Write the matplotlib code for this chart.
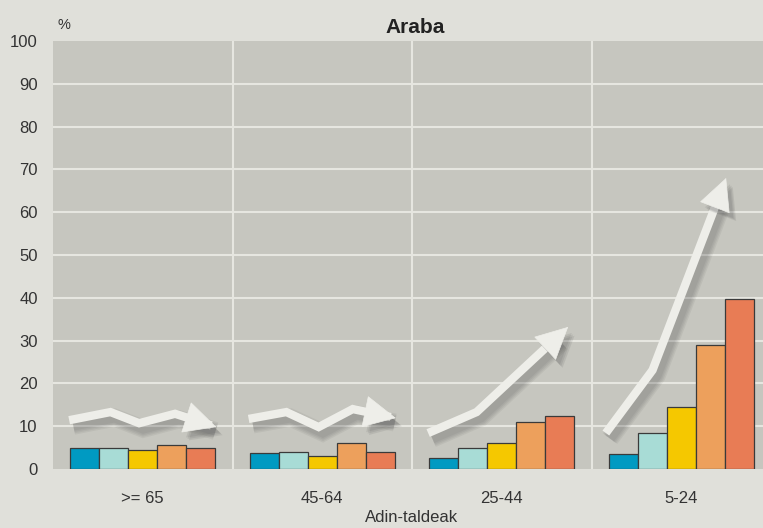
import matplotlib
matplotlib.use("Agg")
import matplotlib.pyplot as plt
import matplotlib.patheffects as pe
import numpy as np

plt.rcParams["font.family"] = ["Liberation Sans", "DejaVu Sans"]

# datos
groups = [">= 65", "45-64", "25-44", "5-24"]
serie1 = [4.8, 3.8, 2.5, 3.5]
serie2 = [5.0, 4.0, 4.8, 8.5]
serie3 = [4.5, 3.0, 6.0, 14.5]
serie4 = [5.5, 6.0, 11.0, 29.0]
serie5 = [4.8, 4.0, 12.5, 39.8]
series = [serie1, serie2, serie3, serie4, serie5]
colors = ["#009ac2", "#a8dcd6", "#f5c800", "#eda05c", "#e87c55"]

# flechas de tendencia (desplazamiento x dentro del grupo, valor y)
trend_x = [[-0.41, -0.18, -0.02, 0.18, 0.41],
           [-0.41, -0.20, -0.02, 0.17, 0.41],
           [-0.41, -0.14, 0.37],
           [-0.42, -0.16, 0.25]]
trend_y = [[11.4, 13.3, 10.7, 12.9, 9.8],
           [11.7, 13.3, 9.8, 14.0, 11.9],
           [8.4, 13.3, 33.2],
           [8.4, 23.1, 68.0]]

BG = "#e0e0da"
PLOT_BG = "#c6c6bf"
GRID = "#e6e6e0"
ARROW = "#eeeee9"

fig = plt.figure(figsize=(7.63, 5.28), dpi=100, facecolor=BG)
ax = fig.add_axes([53 / 763, 59 / 528, 718 / 763, 428 / 528])
ax.set_facecolor(PLOT_BG)

x = np.arange(len(groups))
w = 0.162
for i, (vals, c) in enumerate(zip(series, colors)):
    ax.bar(x + (i - 2) * w, vals, width=w, color=c, edgecolor="#3a3a3a",
           linewidth=0.9, zorder=3)

# sombra difusa: varios trazos desplazados y transparentes
shadow = [pe.Stroke(offset=(3, -4), linewidth=6 + k, foreground="#3c3c3c", alpha=0.07)
          for k in (7, 5, 3, 1)] + [pe.Normal()]
pshadow = [pe.SimplePatchShadow(offset=(3 + k, -4 - k), shadow_rgbFace="#3c3c3c", alpha=0.1)
           for k in (2, 1, 0)] + [pe.Normal()]
for g, (tx, ty) in enumerate(zip(trend_x, trend_y)):
    px = g + np.array(tx)
    py = np.array(ty)
    # acortar el tramo final para dejar sitio a la punta
    dx, dy = px[-1] - px[-2], py[-1] - py[-2]
    sx = list(px[:-1]) + [px[-1] - dx * 0.12]
    sy = list(py[:-1]) + [py[-1] - dy * 0.12]
    ax.plot(sx, sy, color=ARROW, lw=6, solid_capstyle="butt",
            solid_joinstyle="miter", zorder=4, path_effects=shadow)
    ax.annotate("", xy=(px[-1], py[-1]), xytext=(px[-2], py[-2]),
                arrowprops=dict(arrowstyle="-|>,head_length=1.1,head_width=0.55",
                                mutation_scale=20, fc=ARROW, ec=ARROW, lw=0.5,
                                shrinkA=0, shrinkB=0, path_effects=pshadow),
                zorder=4)

ax.set_xlim(-0.5, 3.5)
ax.set_ylim(0, 100)
ax.set_yticks(np.arange(0, 101, 10))
ax.set_xticks(x)
ax.set_xticklabels(groups)
ax.tick_params(axis="both", length=0, labelsize=12, colors="#333333")
ax.tick_params(axis="y", pad=11)
ax.tick_params(axis="x", pad=16)
for yv in np.arange(10, 100, 10):
    ax.axhline(yv, color=GRID, lw=1.5, zorder=1)
for xv in [0.5, 1.5, 2.5]:
    ax.axvline(xv, color=GRID, lw=1.5, zorder=1)
for s in ax.spines.values():
    s.set_visible(False)

ax.set_xlabel("Adin-taldeak", fontsize=12, color="#333333", labelpad=3)
ax.set_title("Araba", fontsize=15, fontweight="bold", color="#222222", pad=6,
             x=(415 - 53) / 718)
ax.text(0.006, 1.02, "%", transform=ax.transAxes, fontsize=10.5, color="#333333",
        ha="left", va="bottom")

fig.savefig("out.png", dpi=100, facecolor=BG)
